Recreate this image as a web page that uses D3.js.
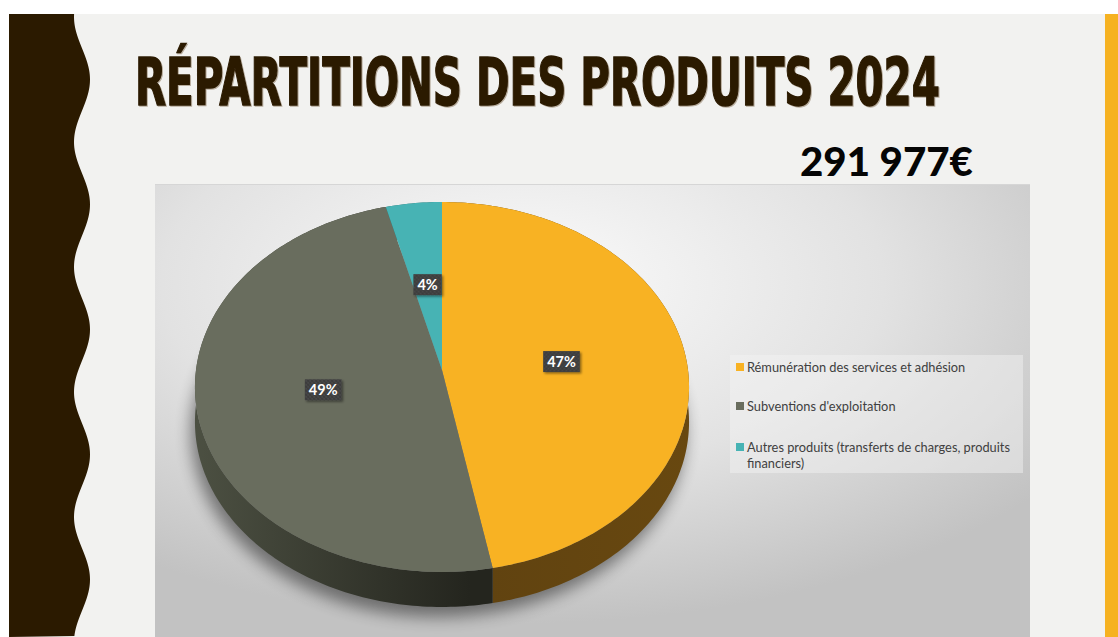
<!DOCTYPE html>
<html><head><meta charset="utf-8">
<script src="https://cdn.jsdelivr.net/npm/d3@7"></script>
<style>
html,body{margin:0;padding:0;background:#fff;}
svg{display:block;}
</style></head>
<body>
<svg id="c" width="1118" height="637"></svg>
<script>
// ---- data ----
const title = "RÉPARTITIONS DES PRODUITS 2024";
const total = "291 977€";
const categories = ["Rémunération des services et adhésion", "Subventions d'exploitation", "Autres produits (transferts de charges, produits financiers)"];
const values = [47, 49, 4];
const pctLabels = ["47%", "49%", "4%"];
const topColors = ["#f8b223", "#696d5e", "#47b3b4"];
const sideColors = ["#634510", "#353729", "#2a6b6c"];

const svg = d3.select("#c");
const W = 1118, H = 637;
const defs = svg.append("defs");

// slide background
svg.append("rect").attr("x", 9).attr("y", 14).attr("width", W - 9).attr("height", H - 14).attr("fill", "#f2f2f0");

// right orange bar
svg.append("rect").attr("x", 1105).attr("y", 14).attr("width", 13).attr("height", H - 14).attr("fill", "#f6b221");

// left wavy band
const wavePts = d3.range(14, H + 1, 2).map(y => [82 + 8 * Math.sin((y - 17) / 125 * 2 * Math.PI - Math.PI / 2), y]);
svg.append("path").attr("d", d3.line().curve(d3.curveBasis)(wavePts).replace(/^M/, "M9,14L") + "L9," + H + "Z")
  .attr("fill", "#2b1a00");

// fitted text helper (scales horizontally to a target width)
function fitText(g, str, x, y, width, attrs) {
  const t = g.append("text").text(str);
  Object.entries(attrs).forEach(([k, v]) => t.attr(k, v));
  const w = t.node().getComputedTextLength();
  t.attr("transform", `translate(${x},${y}) scale(${width / w},1)`);
  return t;
}
const titleFont = { "font-family": "'Liberation Sans Narrow','DejaVu Sans Condensed','Arial Narrow',sans-serif", "font-weight": "bold", "font-size": 66 };
const tg = svg.append("g");
fitText(tg, title, 136, 106, 805, Object.assign({ fill: "#b9ae9f", stroke: "#b9ae9f", "stroke-width": 1.4 }, titleFont));
fitText(tg, title, 135, 105, 805, Object.assign({ fill: "#2b1a00", stroke: "#2b1a00", "stroke-width": 1.4 }, titleFont));

// total
fitText(svg, total, 800, 176, 173, { "font-family": "Lato, 'Open Sans', sans-serif", "font-weight": 900, "font-size": 39, fill: "#050505" });

// chart area
const bg = defs.append("radialGradient").attr("id", "bgGrad").attr("cx", "0.42").attr("cy", "0.22").attr("r", "0.75");
bg.append("stop").attr("offset", "0").attr("stop-color", "#fbfbfb");
bg.append("stop").attr("offset", "0.55").attr("stop-color", "#e2e2e2");
bg.append("stop").attr("offset", "1").attr("stop-color", "#c2c2c2");
svg.append("rect").attr("x", 155).attr("y", 184).attr("width", 875).attr("height", H - 184).attr("fill", "url(#bgGrad)");
svg.append("line").attr("x1", 155).attr("x2", 1030).attr("y1", 184.5).attr("y2", 184.5).attr("stroke", "#d6d6d6");

// pie geometry (perspective projection of a circle)
const CX = 442, R = 246, A = 149.4, B = 370, C = -0.0919, DEPTH = 35;
function proj(theta, f, dy) {
  const u = f * Math.sin(theta), v = -f * Math.cos(theta);
  const den = 1 + C * v;
  return [CX + R * u / den, (A * v + B) / den + (dy || 0)];
}
function arcPts(a0, a1, dy) {
  const n = Math.max(2, Math.ceil((a1 - a0) / (Math.PI / 180)));
  return d3.range(n + 1).map(i => proj(a0 + (a1 - a0) * i / n, 1, dy));
}
const pie = d3.pie().sort(null).value(d => d)(values);
const line = d3.line();

// shadow
const sh = defs.append("filter").attr("id", "shadow").attr("x", "-20%").attr("y", "-20%").attr("width", "140%").attr("height", "140%");
sh.append("feGaussianBlur").attr("stdDeviation", 8);
const fullBot = arcPts(0, 2 * Math.PI, DEPTH + 10);
svg.append("path").attr("d", line(fullBot) + "Z").attr("transform", "translate(-4,0)")
  .attr("fill", "#000").attr("opacity", 0.45).attr("filter", "url(#shadow)");

// side gradients
const gGray = defs.append("linearGradient").attr("id", "sideGray").attr("gradientUnits", "userSpaceOnUse")
  .attr("x1", 195).attr("x2", 470).attr("y1", 0).attr("y2", 0);
gGray.append("stop").attr("offset", "0").attr("stop-color", "#4c5042");
gGray.append("stop").attr("offset", "1").attr("stop-color", "#24251e");
const gOr = defs.append("linearGradient").attr("id", "sideOr").attr("gradientUnits", "userSpaceOnUse")
  .attr("x1", 490).attr("x2", 690).attr("y1", 0).attr("y2", 0);
gOr.append("stop").attr("offset", "0").attr("stop-color", "#614310");
gOr.append("stop").attr("offset", "1").attr("stop-color", "#684810");
const sideFill = ["url(#sideOr)", "url(#sideGray)", sideColors[2]];

const pieG = svg.append("g");
pieG.selectAll("path.side").data(pie).join("path").attr("class", "side")
  .attr("d", d => {
    const top = arcPts(d.startAngle, d.endAngle, 0);
    const bot = arcPts(d.startAngle, d.endAngle, DEPTH).reverse();
    return line(top.concat(bot)) + "Z";
  })
  .attr("fill", (d, i) => sideFill[i]);
pieG.selectAll("path.top").data(pie).join("path").attr("class", "top")
  .attr("d", d => line([proj(0, 0, 0)].concat(arcPts(d.startAngle, d.endAngle, 0))) + "Z")
  .attr("fill", (d, i) => topColors[i]);

// labels
const pat = defs.append("pattern").attr("id", "chk").attr("width", 4).attr("height", 4).attr("patternUnits", "userSpaceOnUse");
pat.append("rect").attr("width", 4).attr("height", 4).attr("fill", "#3c3c3c");
pat.append("rect").attr("width", 2).attr("height", 2).attr("fill", "#474747");
pat.append("rect").attr("x", 2).attr("y", 2).attr("width", 2).attr("height", 2).attr("fill", "#474747");
const lsh = defs.append("filter").attr("id", "lsh").attr("x", "-30%").attr("y", "-30%").attr("width", "160%").attr("height", "160%");
lsh.append("feDropShadow").attr("dx", 1.5).attr("dy", 1.5).attr("stdDeviation", 1.2).attr("flood-color", "#000").attr("flood-opacity", 0.45);

const labG = svg.append("g");
pie.forEach((d, i) => {
  const mid = (d.startAngle + d.endAngle) / 2;
  const [x, y] = proj(mid, 0.49, 0);
  const g = labG.append("g").attr("transform", `translate(${x},${y})`);
  const t = g.append("text").text(pctLabels[i]).attr("text-anchor", "middle").attr("y", 5)
    .attr("font-family", "Lato, 'Open Sans', sans-serif").attr("font-weight", "bold").attr("font-size", 14.5)
    .attr("fill", "#fff");
  const w = t.node().getComputedTextLength() + 8;
  g.insert("rect", "text").attr("x", -w / 2).attr("y", -10.5).attr("width", w).attr("height", 21)
    .attr("fill", "url(#chk)").attr("filter", "url(#lsh)");
});

// legend
svg.append("rect").attr("x", 730).attr("y", 355).attr("width", 293).attr("height", 118)
  .attr("fill", "#f4f4f4").attr("opacity", 0.45);
const legY = [372, 411, 452];
const legG = svg.append("g");
categories.forEach((c, i) => {
  legG.append("rect").attr("x", 736).attr("y", legY[i] - 9).attr("width", 8).attr("height", 8).attr("fill", topColors[i]);
  const t = legG.append("text").attr("x", 747).attr("y", legY[i])
    .attr("font-family", "Lato, 'Open Sans', sans-serif").attr("font-size", 12.8).attr("fill", "#404040");
  const words = c.split(" ");
  let ln = [], tsp = t.append("tspan").attr("x", 747);
  words.forEach(wd => {
    ln.push(wd);
    tsp.text(ln.join(" "));
    if (tsp.node().getComputedTextLength() > 276 && ln.length > 1) {
      ln.pop(); tsp.text(ln.join(" "));
      ln = [wd];
      tsp = t.append("tspan").attr("x", 747).attr("dy", 15.5).text(wd);
    }
  });
});
</script>
</body></html>
